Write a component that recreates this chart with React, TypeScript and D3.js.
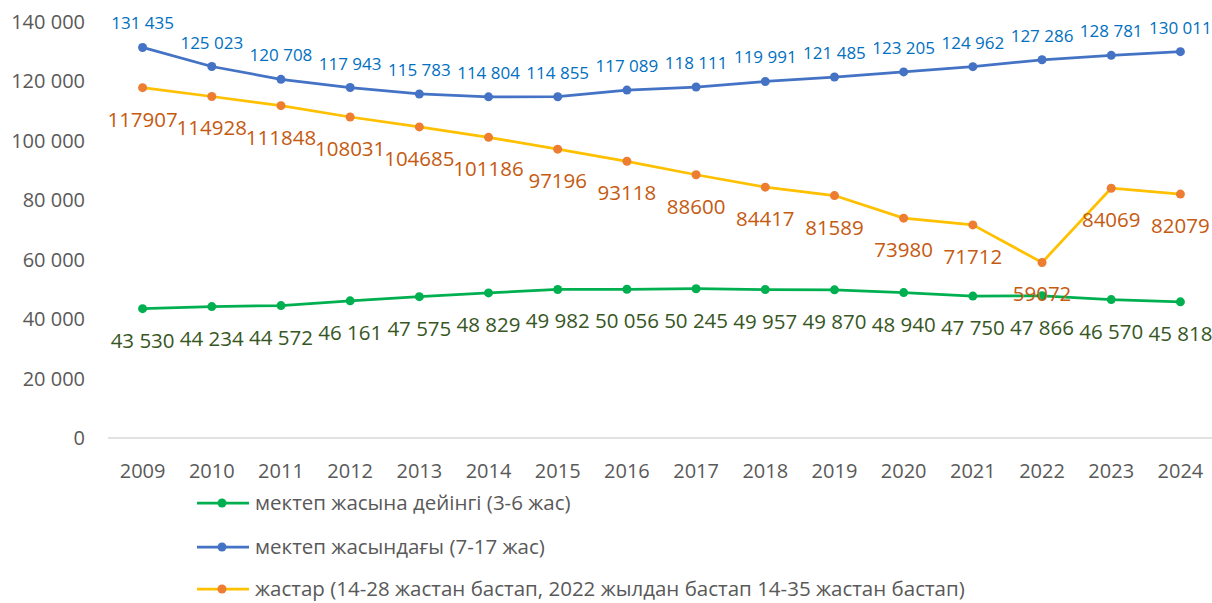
import React from 'react';
import * as d3 from 'd3';

const years = ['2009', '2010', '2011', '2012', '2013', '2014', '2015', '2016', '2017', '2018', '2019', '2020', '2021', '2022', '2023', '2024'];
const preschool = [43530, 44234, 44572, 46161, 47575, 48829, 49982, 50056, 50245, 49957, 49870, 48940, 47750, 47866, 46570, 45818];
const school = [131435, 125023, 120708, 117943, 115783, 114804, 114855, 117089, 118111, 119991, 121485, 123205, 124962, 127286, 128781, 130011];
const youth = [117907, 114928, 111848, 108031, 104685, 101186, 97196, 93118, 88600, 84417, 81589, 73980, 71712, 59072, 84069, 82079];
const yTicks = [0, 20000, 40000, 60000, 80000, 100000, 120000, 140000];

const legendNames = [
  'мектеп жасына дейінгі (3-6 жас)',
  'мектеп жасындағы (7-17 жас)',
  'жастар (14-28 жастан бастап, 2022 жылдан бастап 14-35 жастан бастап)',
];

const W = 1212;
const H = 603;
const FONT = '"Open Sans", sans-serif';

// 131 435 style with a space
const spaced = (v: number) => d3.format(',')(v).replace(/,/g, ' ');

export default function App() {
  const x = d3.scaleBand().domain(years).range([108, 1215]);
  const y = d3.scaleLinear().domain([0, 140000]).range([438, 22]);
  const cx = (i: number) => (x(years[i]) as number) + x.bandwidth() / 2;

  const line = d3.line<number>().x((_, i) => cx(i)).y(d => y(d));

  const series = [
    { data: preschool, line: '#00B050', dot: '#00B050', label: '#375623', fmt: spaced, dy: 39, size: 20.5 },
    { data: school, line: '#4472C4', dot: '#4472C4', label: '#0070C0', fmt: spaced, dy: -18, size: 17 },
    { data: youth, line: '#FFC000', dot: '#ED7D31', label: '#C55A11', fmt: (v: number) => String(v), dy: 39, size: 20.5 },
  ];

  const legendY = [503, 547, 589];

  return (
    <svg width={W} height={H} style={{ position: 'absolute', left: 0, top: 0, background: '#fff' }} fontFamily={FONT}>
      <line x1={108} x2={1215} y1={y(0)} y2={y(0)} stroke="#D9D9D9" strokeWidth={1.5} />
      {yTicks.map(t => (
        <text key={t} x={85} y={y(t)} dy="0.35em" textAnchor="end" fontSize={20} fill="#595959">
          {spaced(t)}
        </text>
      ))}
      {years.map((yr, i) => (
        <text key={yr} x={cx(i)} y={478} textAnchor="middle" fontSize={20} fill="#595959">
          {yr}
        </text>
      ))}
      {series.map((s, k) => (
        <g key={k}>
          <path d={line(s.data) || ''} fill="none" stroke={s.line} strokeWidth={2.75} strokeLinejoin="round" />
          {s.data.map((v, i) => (
            <circle key={i} cx={cx(i)} cy={y(v)} r={4.5} fill={s.dot} />
          ))}
        </g>
      ))}
      {series.map((s, k) => (
        <g key={'l' + k}>
          {s.data.map((v, i) => (
            <text key={i} x={cx(i)} y={y(v) + s.dy} textAnchor="middle" fontSize={s.size} fill={s.label}>
              {s.fmt(v)}
            </text>
          ))}
        </g>
      ))}
      {series.map((s, k) => (
        <g key={'g' + k} transform={`translate(0,${legendY[k]})`}>
          <line x1={197} x2={249} y1={0} y2={0} stroke={s.line} strokeWidth={2.75} />
          <circle cx={222} cy={0} r={4.5} fill={s.dot} />
          <text x={255} y={0} dy="0.33em" fontSize={20.5} fill="#595959">
            {legendNames[k]}
          </text>
        </g>
      ))}
    </svg>
  );
}
